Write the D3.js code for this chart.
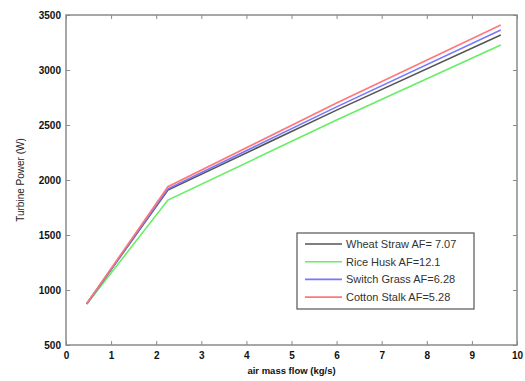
<!DOCTYPE html>
<html><head><meta charset="utf-8">
<script src="https://cdn.jsdelivr.net/npm/d3@7"></script>
<style>body{margin:0;background:#fff}svg{display:block}</style>
</head><body><svg id="c" width="525" height="381"></svg>
<script>
const xValues = [0.46, 2.26, 6.0, 9.64];
const wheatStraw = [875, 1909, 2635, 3318];
const riceHusk = [870, 1818, 2545, 3227];
const switchGrass = [875, 1920, 2665, 3364];
const cottonStalk = [878, 1939, 2700, 3409];
const seriesNames = ["Wheat Straw AF= 7.07", "Rice Husk AF=12.1", "Switch Grass AF=6.28", "Cotton Stalk AF=5.28"];
const seriesColors = ["#555555", "#66ee66", "#7777ff", "#ff7777"];
const xTicks = [0,1,2,3,4,5,6,7,8,9,10];
const yTicks = [500,1000,1500,2000,2500,3000,3500];

const svg = d3.select("#c");
const L=66, R=517, T=15, B=345;
const x = d3.scaleLinear().domain([0,10]).range([L,R]);
const y = d3.scaleLinear().domain([500,3500]).range([B,T]);
const axisColor = "#8a8a8a";

const g = svg.append("g");
// box
g.append("rect").attr("x",L).attr("y",T).attr("width",R-L).attr("height",B-T)
 .attr("fill","none").attr("stroke",axisColor).attr("stroke-width",1.5);

const xa = d3.axisBottom(x).tickValues(xTicks).tickSize(-4).tickPadding(7).tickFormat(d3.format("d"));
const ya = d3.axisLeft(y).tickValues(yTicks).tickSize(-4).tickPadding(5).tickFormat(d3.format("d"));
const xat = d3.axisTop(x).tickValues(xTicks).tickSize(-4).tickFormat("");
const yar = d3.axisRight(y).tickValues(yTicks).tickSize(-4).tickFormat("");

function style(sel){
  sel.select(".domain").remove();
  sel.selectAll(".tick line").attr("stroke",axisColor);
  sel.selectAll(".tick text").attr("fill","#111").attr("font-family","Liberation Sans, Arial, sans-serif")
     .attr("font-size","10px").attr("font-weight","bold");
}
g.append("g").attr("transform",`translate(0,${B})`).call(xa).call(style);
g.append("g").attr("transform",`translate(${L},0)`).call(ya).call(style);
g.append("g").attr("transform",`translate(0,${T})`).call(xat).call(style);
g.append("g").attr("transform",`translate(${R},0)`).call(yar).call(style);

const allSeries = [wheatStraw, riceHusk, switchGrass, cottonStalk];
const line = d3.line().x((d,i)=>x(xValues[i])).y(d=>y(d));
const drawOrder = [1,0,2,3];
drawOrder.forEach(k=>{
  g.append("path").datum(allSeries[k]).attr("d",line).attr("fill","none")
   .attr("stroke",seriesColors[k]).attr("stroke-width",1.6);
});

// labels
svg.append("text").attr("x",(L+R)/2).attr("y",374).attr("text-anchor","middle")
 .attr("font-family","Liberation Sans, Arial, sans-serif").attr("font-size","9.5px").attr("font-weight","bold")
 .attr("fill","#111").text("air mass flow (kg/s)");
svg.append("text").attr("transform",`translate(24,${(T+B)/2}) rotate(-90)`).attr("text-anchor","middle")
 .attr("font-family","Liberation Sans, Arial, sans-serif").attr("font-size","10px")
 .attr("fill","#222").text("Turbine Power (W)");

// legend
const lg = svg.append("g");
lg.append("rect").attr("x",297).attr("y",233).attr("width",177).attr("height",76)
 .attr("fill","#fff").attr("stroke","#555").attr("stroke-width",1.2);
seriesNames.forEach((n,i)=>{
  const yy = 244 + i*17.7;
  lg.append("line").attr("x1",305).attr("x2",342).attr("y1",yy).attr("y2",yy)
    .attr("stroke",seriesColors[i]).attr("stroke-width",1.6);
  lg.append("text").attr("x",346).attr("y",yy+4).attr("font-family","Liberation Sans, Arial, sans-serif")
    .attr("font-size","11px").attr("fill","#333").text(n);
});
</script></body></html>
